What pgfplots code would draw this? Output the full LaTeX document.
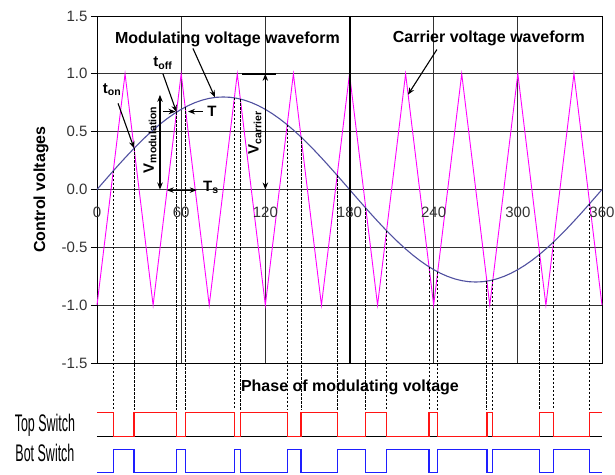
\documentclass[border=0pt]{standalone}
\usepackage{pgfplots}
\pgfplotsset{compat=1.18}
\usepackage{fontspec}
\setmainfont{Liberation Sans}
\usepackage{graphicx}
\usetikzlibrary{arrows.meta}

\definecolor{modblue}{RGB}{80,80,160}
\definecolor{carrier}{RGB}{255,0,255}
\definecolor{gridgray}{RGB}{50,50,50}
\definecolor{topred}{RGB}{255,20,20}
\definecolor{botblue}{RGB}{30,30,255}

\begin{document}
\begin{tikzpicture}[
  ann/.style={-{Stealth[length=7bp,width=5.5bp]}, line width=1.1bp, black},
  dbl/.style={{Stealth[length=7bp,width=5.5bp]}-{Stealth[length=7bp,width=5.5bp]}, line width=1.1bp, black},
  lbl/.style={font=\fontsize{15bp}{18bp}\selectfont\bfseries, inner sep=0pt},
]
\begin{axis}[
  at={(0,0)}, anchor=south west,
  scale only axis, width=505bp, height=347bp,
  xmin=0, xmax=360, ymin=-1.5, ymax=1.5,
  clip=false,
  xtick={0,60,...,360}, xticklabels={},
  xtick style={draw=none},
  ytick={-1.5,-1,...,1.5},
  yticklabels={-1.5,-1.0,-0.5,0.0,0.5,1.0,1.5},
  ytick pos=left, tick align=outside, major tick length=6bp,
  ytick style={black, line width=0.8bp},
  yticklabel style={font=\fontsize{15bp}{18bp}\selectfont, color=black!80},
  grid=major, major grid style={gridgray, line width=0.8bp},
  axis line style={black, line width=0.9bp},
  ylabel={Control voltages},
  every axis y label/.style={at={(axis description cs:0,0.5)}, xshift=-56bp,
    rotate=90, anchor=center, font=\fontsize{16bp}{19bp}\selectfont\bfseries},
]

% carrier: triangle wave, period 40 degrees
\addplot[carrier, line width=0.9bp] coordinates {
  (0,-1) (20,1) (40,-1) (60,1) (80,-1) (100,1) (120,-1) (140,1) (160,-1)
  (180,1) (200,-1) (220,1) (240,-1) (260,1) (280,-1) (300,1) (320,-1)
  (340,1) (360,-1)
};

% modulating sine, amplitude 0.8
\addplot[modblue, line width=1.1bp] coordinates {
  (0,0) (5,0.0697) (10,0.1389) (15,0.2071) (20,0.2736) (25,0.3381) (30,0.4)
  (35,0.4589) (40,0.5142) (45,0.5657) (50,0.6128) (55,0.6553) (60,0.6928)
  (65,0.7250) (70,0.7518) (75,0.7727) (80,0.7878) (85,0.7970) (90,0.8)
  (95,0.7970) (100,0.7878) (105,0.7727) (110,0.7518) (115,0.7250) (120,0.6928)
  (125,0.6553) (130,0.6128) (135,0.5657) (140,0.5142) (145,0.4589) (150,0.4)
  (155,0.3381) (160,0.2736) (165,0.2071) (170,0.1389) (175,0.0697) (180,0)
  (185,-0.0697) (190,-0.1389) (195,-0.2071) (200,-0.2736) (205,-0.3381) (210,-0.4)
  (215,-0.4589) (220,-0.5142) (225,-0.5657) (230,-0.6128) (235,-0.6553) (240,-0.6928)
  (245,-0.7250) (250,-0.7518) (255,-0.7727) (260,-0.7878) (265,-0.7970) (270,-0.8)
  (275,-0.7970) (280,-0.7878) (285,-0.7727) (290,-0.7518) (295,-0.7250) (300,-0.6928)
  (305,-0.6553) (310,-0.6128) (315,-0.5657) (320,-0.5142) (325,-0.4589) (330,-0.4)
  (335,-0.3381) (340,-0.2736) (345,-0.2071) (350,-0.1389) (355,-0.0697) (360,0)
};

% switching instants: drop lines from each crossing
\pgfplotsset{drop/.style={black, line width=0.8bp, dash pattern=on 2.5bp off 1.5bp}}
\addplot[drop] coordinates {(11.6,0.161) (11.6,-1.903)};
\addplot[drop] coordinates {(26.45,0.356) (26.45,-1.903)};
\addplot[drop] coordinates {(56.69,0.669) (56.69,-1.903)};
\addplot[drop] coordinates {(62.88,0.712) (62.88,-1.903)};
\addplot[drop] coordinates {(97.92,0.792) (97.92,-1.903)};
\addplot[drop] coordinates {(102.18,0.782) (102.18,-1.903)};
\addplot[drop] coordinates {(135.6,0.560) (135.6,-1.903)};
\addplot[drop] coordinates {(145.53,0.453) (145.53,-1.903)};
\addplot[drop] coordinates {(171.23,0.122) (171.23,-1.903)};
\addplot[drop] coordinates {(191.6,-0.161) (191.6,-1.903)};
\addplot[drop] coordinates {(206.45,-0.356) (206.45,-1.903)};
\addplot[drop] coordinates {(236.69,-0.669) (236.69,-1.903)};
\addplot[drop] coordinates {(242.88,-0.712) (242.88,-1.903)};
\addplot[drop] coordinates {(277.92,-0.792) (277.92,-1.903)};
\addplot[drop] coordinates {(282.18,-0.782) (282.18,-1.903)};
\addplot[drop] coordinates {(315.6,-0.560) (315.6,-1.903)};
\addplot[drop] coordinates {(325.53,-0.453) (325.53,-1.903)};
\addplot[drop] coordinates {(351.23,-0.122) (351.23,-1.903)};

% half-period marker
\addplot[black, line width=2bp] coordinates {(180,-1.5) (180,1.5)};

% gate signals
\addplot[black, line width=1.3bp] coordinates {(0,-2.136) (360,-2.136)};
\addplot[topred, line width=1.3bp, const plot] coordinates {
  (0,-1.929) (11.6,-2.136) (26.45,-1.929) (56.69,-2.136) (62.88,-1.929)
  (97.92,-2.136) (102.18,-1.929) (135.6,-2.136) (145.53,-1.929) (171.23,-2.136)
  (191.6,-1.929) (206.45,-2.136) (236.69,-1.929) (242.88,-2.136) (277.92,-1.929)
  (282.18,-2.136) (315.6,-1.929) (325.53,-2.136) (351.23,-1.929) (360,-1.929)
};
\addplot[botblue, line width=1.3bp, const plot] coordinates {
  (0,-2.447) (11.6,-2.249) (26.45,-2.447) (56.69,-2.249) (62.88,-2.447)
  (97.92,-2.249) (102.18,-2.447) (135.6,-2.249) (145.53,-2.447) (171.23,-2.249)
  (191.6,-2.447) (206.45,-2.249) (236.69,-2.447) (242.88,-2.249) (277.92,-2.447)
  (282.18,-2.249) (315.6,-2.447) (325.53,-2.249) (351.23,-2.447) (360,-2.447)
};

% x tick labels sit on the zero line
\pgfplotsinvokeforeach{0,60,120,180,240,300,360}{
  \node[anchor=base, font=\fontsize{15bp}{18bp}\selectfont, color=black!80,
        yshift=-28bp, inner sep=0pt] at (axis cs:#1,0) {#1};
}

% annotations
\node[font=\fontsize{16bp}{19bp}\selectfont\bfseries] at (axis cs:93,1.30) {Modulating voltage waveform};
\draw[ann] (axis cs:68.4,1.22) -- (axis cs:84.1,0.797);
\node[font=\fontsize{16bp}{19bp}\selectfont\bfseries] at (axis cs:279.4,1.31) {Carrier voltage waveform};
\draw[ann] (axis cs:242.3,1.21) -- (axis cs:221.7,0.82);

\node[lbl] at (axis cs:10.7,0.86) {t\textsubscript{on}};
\draw[ann] (axis cs:15,0.745) -- (axis cs:26.45,0.356);

\node[lbl] at (axis cs:47,1.09) {t\textsubscript{off}};
\draw[ann] (axis cs:47,1.0) -- (axis cs:56.69,0.669);

\draw[ann] (axis cs:47,0.674) -- (axis cs:56,0.674);
\draw[ann] (axis cs:75.3,0.674) -- (axis cs:64.9,0.674);
\node[lbl, anchor=west] at (axis cs:78.5,0.674) {T};

\draw[dbl] (axis cs:44.9,0.818) -- (axis cs:44.9,0);
\node[lbl, rotate=90] at (axis cs:37.8,0.43) {V\textsubscript{modulation}};

\draw[line width=1.5bp] (axis cs:103.6,1) -- (axis cs:127.8,1);
\draw[dbl] (axis cs:120,1) -- (axis cs:120,0);
\node[lbl, rotate=90] at (axis cs:112.6,0.49) {V\textsubscript{carrier}};

\draw[dbl] (axis cs:49.7,-0.005) -- (axis cs:71.1,-0.005);
\node[lbl, anchor=base west] at (axis cs:75.5,-0.02) {T\textsubscript{s}};

\node[font=\fontsize{16bp}{19bp}\selectfont\bfseries] at (axis cs:180.3,-1.713) {Phase of modulating voltage};

\node at (axis cs:-37.1,-2.041) {\scalebox{0.52}[1]{\fontsize{24bp}{24bp}\selectfont Top Switch}};
\node at (axis cs:-37.1,-2.274) {\scalebox{0.52}[1]{\fontsize{24bp}{24bp}\selectfont Bot Switch}};
\end{axis}
\pgfresetboundingbox
\path[use as bounding box] (-97bp,-112bp) rectangle (518bp,363bp);
\end{tikzpicture}
\end{document}
